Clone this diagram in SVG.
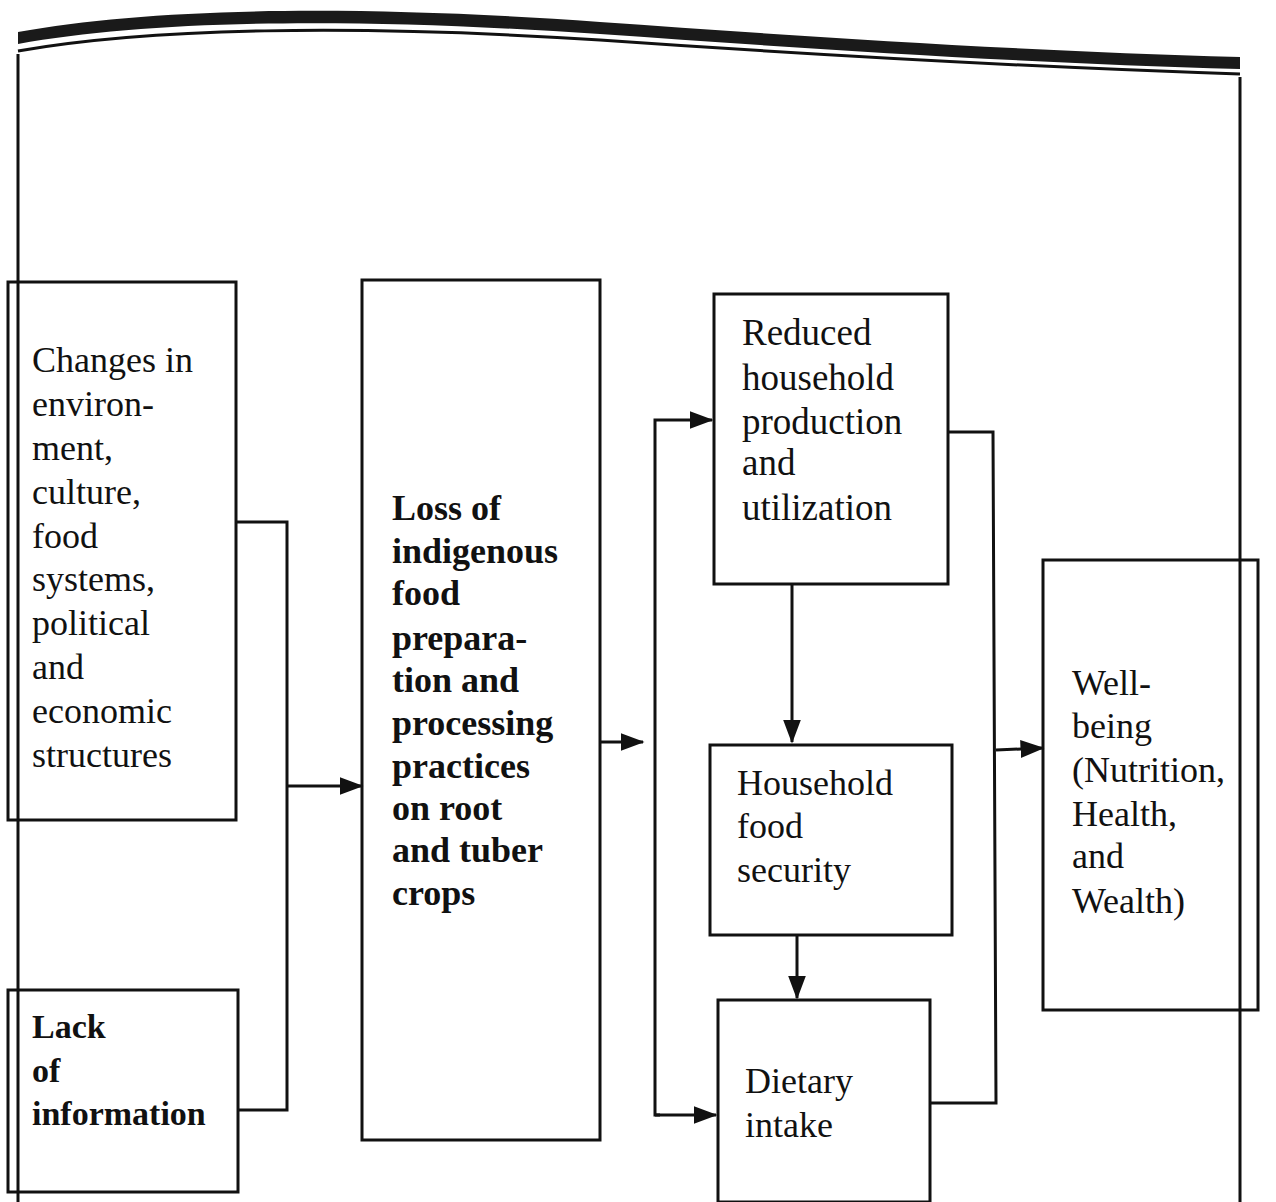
<svg xmlns="http://www.w3.org/2000/svg" width="1276" height="1202" viewBox="0 0 1276 1202">
<defs>
<marker id="ah" markerWidth="8" markerHeight="6" refX="7.5" refY="3" orient="auto" markerUnits="strokeWidth">
<path d="M0,0 L8,3 L0,6 Z" fill="#111"/>
</marker>
<style>
.box{fill:none;stroke:#111;stroke-width:3}
.ln{fill:none;stroke:#111;stroke-width:3}
.t{font-family:"Liberation Serif","Times New Roman",serif;font-size:36px;fill:#111}
.b{font-family:"Liberation Serif","Times New Roman",serif;font-size:34px;font-weight:bold;fill:#111}
.b2{font-family:"Liberation Serif","Times New Roman",serif;font-size:36px;font-weight:bold;fill:#111}
</style>
</defs>
<rect width="1276" height="1202" fill="#fff"/>
<g id="frame">
<path d="M18,32 C150,8 350,4 600,22 C800,36 1000,50 1240,57 L1240,69 C1000,62 800,48 600,34 C350,17 150,20 18,44 Z" fill="#1a1a1a"/>
<path d="M18,51 C150,28 350,24 600,40 C800,54 1000,66 1240,74" class="ln" stroke-width="2.5"/>
<path d="M18,54 L18,1202" class="ln" stroke-width="2.5"/>
<path d="M1240,77 L1240,1202" class="ln" stroke-width="2.5"/>
</g>
<g id="n1">
<rect x="8" y="282" width="228" height="538" class="box"/>
<text class="t" x="32" y="372">Changes in</text>
<text class="t" x="32" y="416">environ-</text>
<text class="t" x="32" y="460">ment,</text>
<text class="t" x="32" y="504">culture,</text>
<text class="t" x="32" y="548">food</text>
<text class="t" x="32" y="591">systems,</text>
<text class="t" x="32" y="635">political</text>
<text class="t" x="32" y="679">and</text>
<text class="t" x="32" y="723">economic</text>
<text class="t" x="32" y="767">structures</text>
</g>
<g id="n2">
<rect x="8" y="990" width="230" height="202" class="box"/>
<text class="b" x="32" y="1038">Lack</text>
<text class="b" x="32" y="1082">of</text>
<text class="b" x="32" y="1125">information</text>
</g>
<g id="n3">
<rect x="362" y="280" width="238" height="860" class="box"/>
<text class="b2" x="392" y="520">Loss of</text>
<text class="b2" x="392" y="563">indigenous</text>
<text class="b2" x="392" y="605">food</text>
<text class="b2" x="392" y="650">prepara-</text>
<text class="b2" x="392" y="692">tion and</text>
<text class="b2" x="392" y="735">processing</text>
<text class="b2" x="392" y="778">practices</text>
<text class="b2" x="392" y="820">on root</text>
<text class="b2" x="392" y="862">and tuber</text>
<text class="b2" x="392" y="905">crops</text>
</g>
<g id="n4">
<rect x="714" y="294" width="234" height="290" class="box"/>
<text class="t" x="742" y="345" style="font-size:37px">Reduced</text>
<text class="t" x="742" y="390" style="font-size:37px">household</text>
<text class="t" x="742" y="434" style="font-size:37px">production</text>
<text class="t" x="742" y="475" style="font-size:37px">and</text>
<text class="t" x="742" y="520" style="font-size:37px">utilization</text>
</g>
<g id="n5">
<rect x="710" y="745" width="242" height="190" class="box"/>
<text class="t" x="737" y="795">Household</text>
<text class="t" x="737" y="838">food</text>
<text class="t" x="737" y="882">security</text>
</g>
<g id="n6">
<rect x="718" y="1000" width="212" height="202" class="box"/>
<text class="t" x="745" y="1093">Dietary</text>
<text class="t" x="745" y="1137">intake</text>
</g>
<g id="n7">
<rect x="1043" y="560" width="215" height="450" class="box"/>
<text class="t" x="1072" y="695">Well-</text>
<text class="t" x="1072" y="738">being</text>
<text class="t" x="1072" y="782">(Nutrition,</text>
<text class="t" x="1072" y="826">Health,</text>
<text class="t" x="1072" y="868">and</text>
<text class="t" x="1072" y="913">Wealth)</text>
</g>
<g id="connectors">
<path d="M236,522 L287,522 L287,1110 L238,1110" class="ln"/>
<path d="M287,786 L362,786" class="ln" marker-end="url(#ah)"/>
<path d="M600,742 L643,742" class="ln" marker-end="url(#ah)"/>
<path d="M660,1115 L655,1115 L655,420 L712,420" class="ln" marker-end="url(#ah)"/>
<path d="M655,1115 L716,1115" class="ln" marker-end="url(#ah)"/>
<path d="M792,584 L792,742" class="ln" marker-end="url(#ah)"/>
<path d="M797,935 L797,998" class="ln" marker-end="url(#ah)"/>
<path d="M948,432 L993,432 L996,1103 L930,1103" class="ln"/>
<path d="M996,750 L1043,748" class="ln" marker-end="url(#ah)"/>
</g>
</svg>
